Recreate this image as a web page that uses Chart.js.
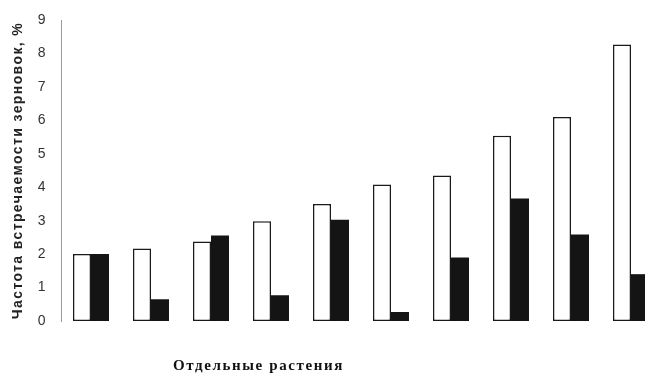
<!DOCTYPE html>
<html>
<head>
<meta charset="utf-8">
<script src="https://cdn.jsdelivr.net/npm/chart.js@4"></script>
<style>
  html, body { margin: 0; padding: 0; background: #fff; overflow: hidden; }
  #wrap { position: relative; width: 645px; height: 376px; overflow: hidden; }
  #box { position: absolute; left: 0; top: 0; width: 676px; height: 376px; }
  #xtitle {
    position: absolute; left: 173px; top: 357px;
    font: bold 15px "Liberation Serif", "DejaVu Serif", serif;
    letter-spacing: 1.6px;
    color: #111; white-space: nowrap;
  }
</style>
</head>
<body>
<div id="wrap">
  <div id="box"><canvas id="myChart" width="676" height="376"></canvas></div>
  <div id="xtitle">Отдельные растения</div>
</div>
<script>
const plants = ['1', '2', '3', '4', '5', '6', '7', '8', '9', '10'];
const whiteVals = [2.0, 2.17, 2.38, 2.98, 3.5, 4.08, 4.35, 5.54, 6.1, 8.27];
const blackVals = [2.0, 0.65, 2.56, 0.77, 3.03, 0.27, 1.9, 3.66, 2.59, 1.4];
const yTicks = [0, 1, 2, 3, 4, 5, 6, 7, 8, 9];

// wider letter spacing for the axis texts, like the scanned original
const spacing = {
  id: 'spacing',
  beforeDraw(chart) { chart.ctx.letterSpacing = '1.4px'; },
  beforeDatasetsDraw(chart) { chart.ctx.letterSpacing = '0px'; }
};

window.onload = function() {
  const data = {
    labels: plants,
    datasets: [{
      label: 'white',
      data: whiteVals,
      backgroundColor: '#ffffff',
      borderColor: '#1a1a1a',
      borderWidth: 1.5,
      borderSkipped: false
    }, {
      label: 'black',
      data: blackVals,
      backgroundColor: '#141414',
      borderColor: '#141414',
      borderWidth: 0,
      borderSkipped: false
    }]
  };

  const config = {
    type: 'bar',
    data: data,
    plugins: [spacing],
    options: {
      responsive: false,
      animation: false,
      layout: { padding: { left: 10, top: 20, right: 15, bottom: 55 } },
      datasets: { bar: { categoryPercentage: 0.6, barPercentage: 1.0 } },
      plugins: { legend: { display: false }, tooltip: { enabled: false } },
      scales: {
        x: {
          display: false
        },
        y: {
          min: 0,
          max: 9,
          afterBuildTicks: (s) => { s.ticks = yTicks.map(v => ({ value: v })); },
          afterFit: (s) => { s.width = 51; },
          grid: { display: false },
          border: { display: true, color: '#999', width: 1 },
          ticks: {
            color: '#333',
            padding: 6,
            font: { family: 'Liberation Sans', size: 14 }
          },
          title: {
            display: true,
            text: 'Частота встречаемости зерновок, %',
            color: '#222',
            padding: 0,
            font: { family: 'Liberation Sans', size: 14, weight: 'bold' }
          }
        }
      }
    }
  };

  const ctx = document.getElementById('myChart').getContext('2d');
  const myChart = new Chart(ctx, config);
}
</script>
</body>
</html>
